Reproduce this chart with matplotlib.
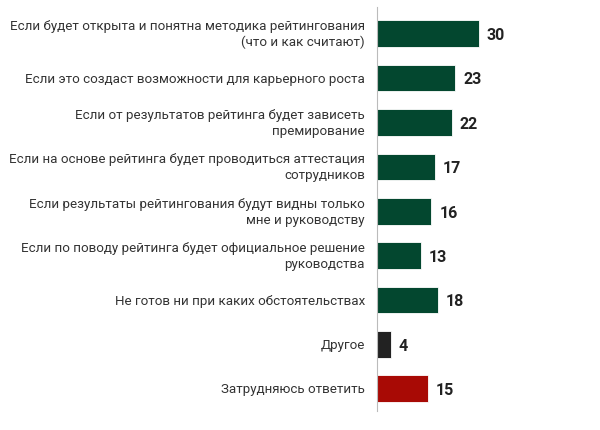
import matplotlib.pyplot as plt

labels = [
    'Если будет открыта и понятна методика рейтингования\n(что и как считают)',
    'Если это создаст возможности для карьерного роста',
    'Если от результатов рейтинга будет зависеть\nпремирование',
    'Если на основе рейтинга будет проводиться аттестация\nсотрудников',
    'Если результаты рейтингования будут видны только\nмне и руководству',
    'Если по поводу рейтинга будет официальное решение\nруководства',
    'Не готов ни при каких обстоятельствах',
    'Другое',
    'Затрудняюсь ответить',
]
values = [30, 23, 22, 17, 16, 13, 18, 4, 15]
colors = ['#03472f'] * 7 + ['#222222', '#a80a05']

plt.rcParams['font.family'] = ['Roboto', 'DejaVu Sans']

fig = plt.figure(figsize=(6, 4.31), dpi=100)
ax = fig.add_axes([377 / 600, 19 / 431, 213 / 600, 404 / 431])

pos = list(range(len(values)))
ax.barh(pos, values, height=0.6, color=colors, edgecolor='#ffffff', linewidth=0.6)

# value labels to the right of each bar
for y, v in zip(pos, values):
    ax.text(v + 2.3, y + 0.02, str(v), va='center', ha='left',
            fontsize=11.5, fontweight='bold', color='#222222')

# category labels, right-aligned left of the axis line
for y, lab in zip(pos, labels):
    ax.text(-3.5, y, lab, va='center', ha='right', fontsize=9.6,
            color='#333333', linespacing=1.3)

ax.set_xlim(0, 213 / 3.4)
ax.set_ylim(8.5, -0.6)
for s in ['top', 'right', 'bottom']:
    ax.spines[s].set_visible(False)
ax.spines['left'].set_color('#bbbbbb')
ax.set_xticks([])
ax.set_yticks([])

fig.savefig('out.png', dpi=100)
